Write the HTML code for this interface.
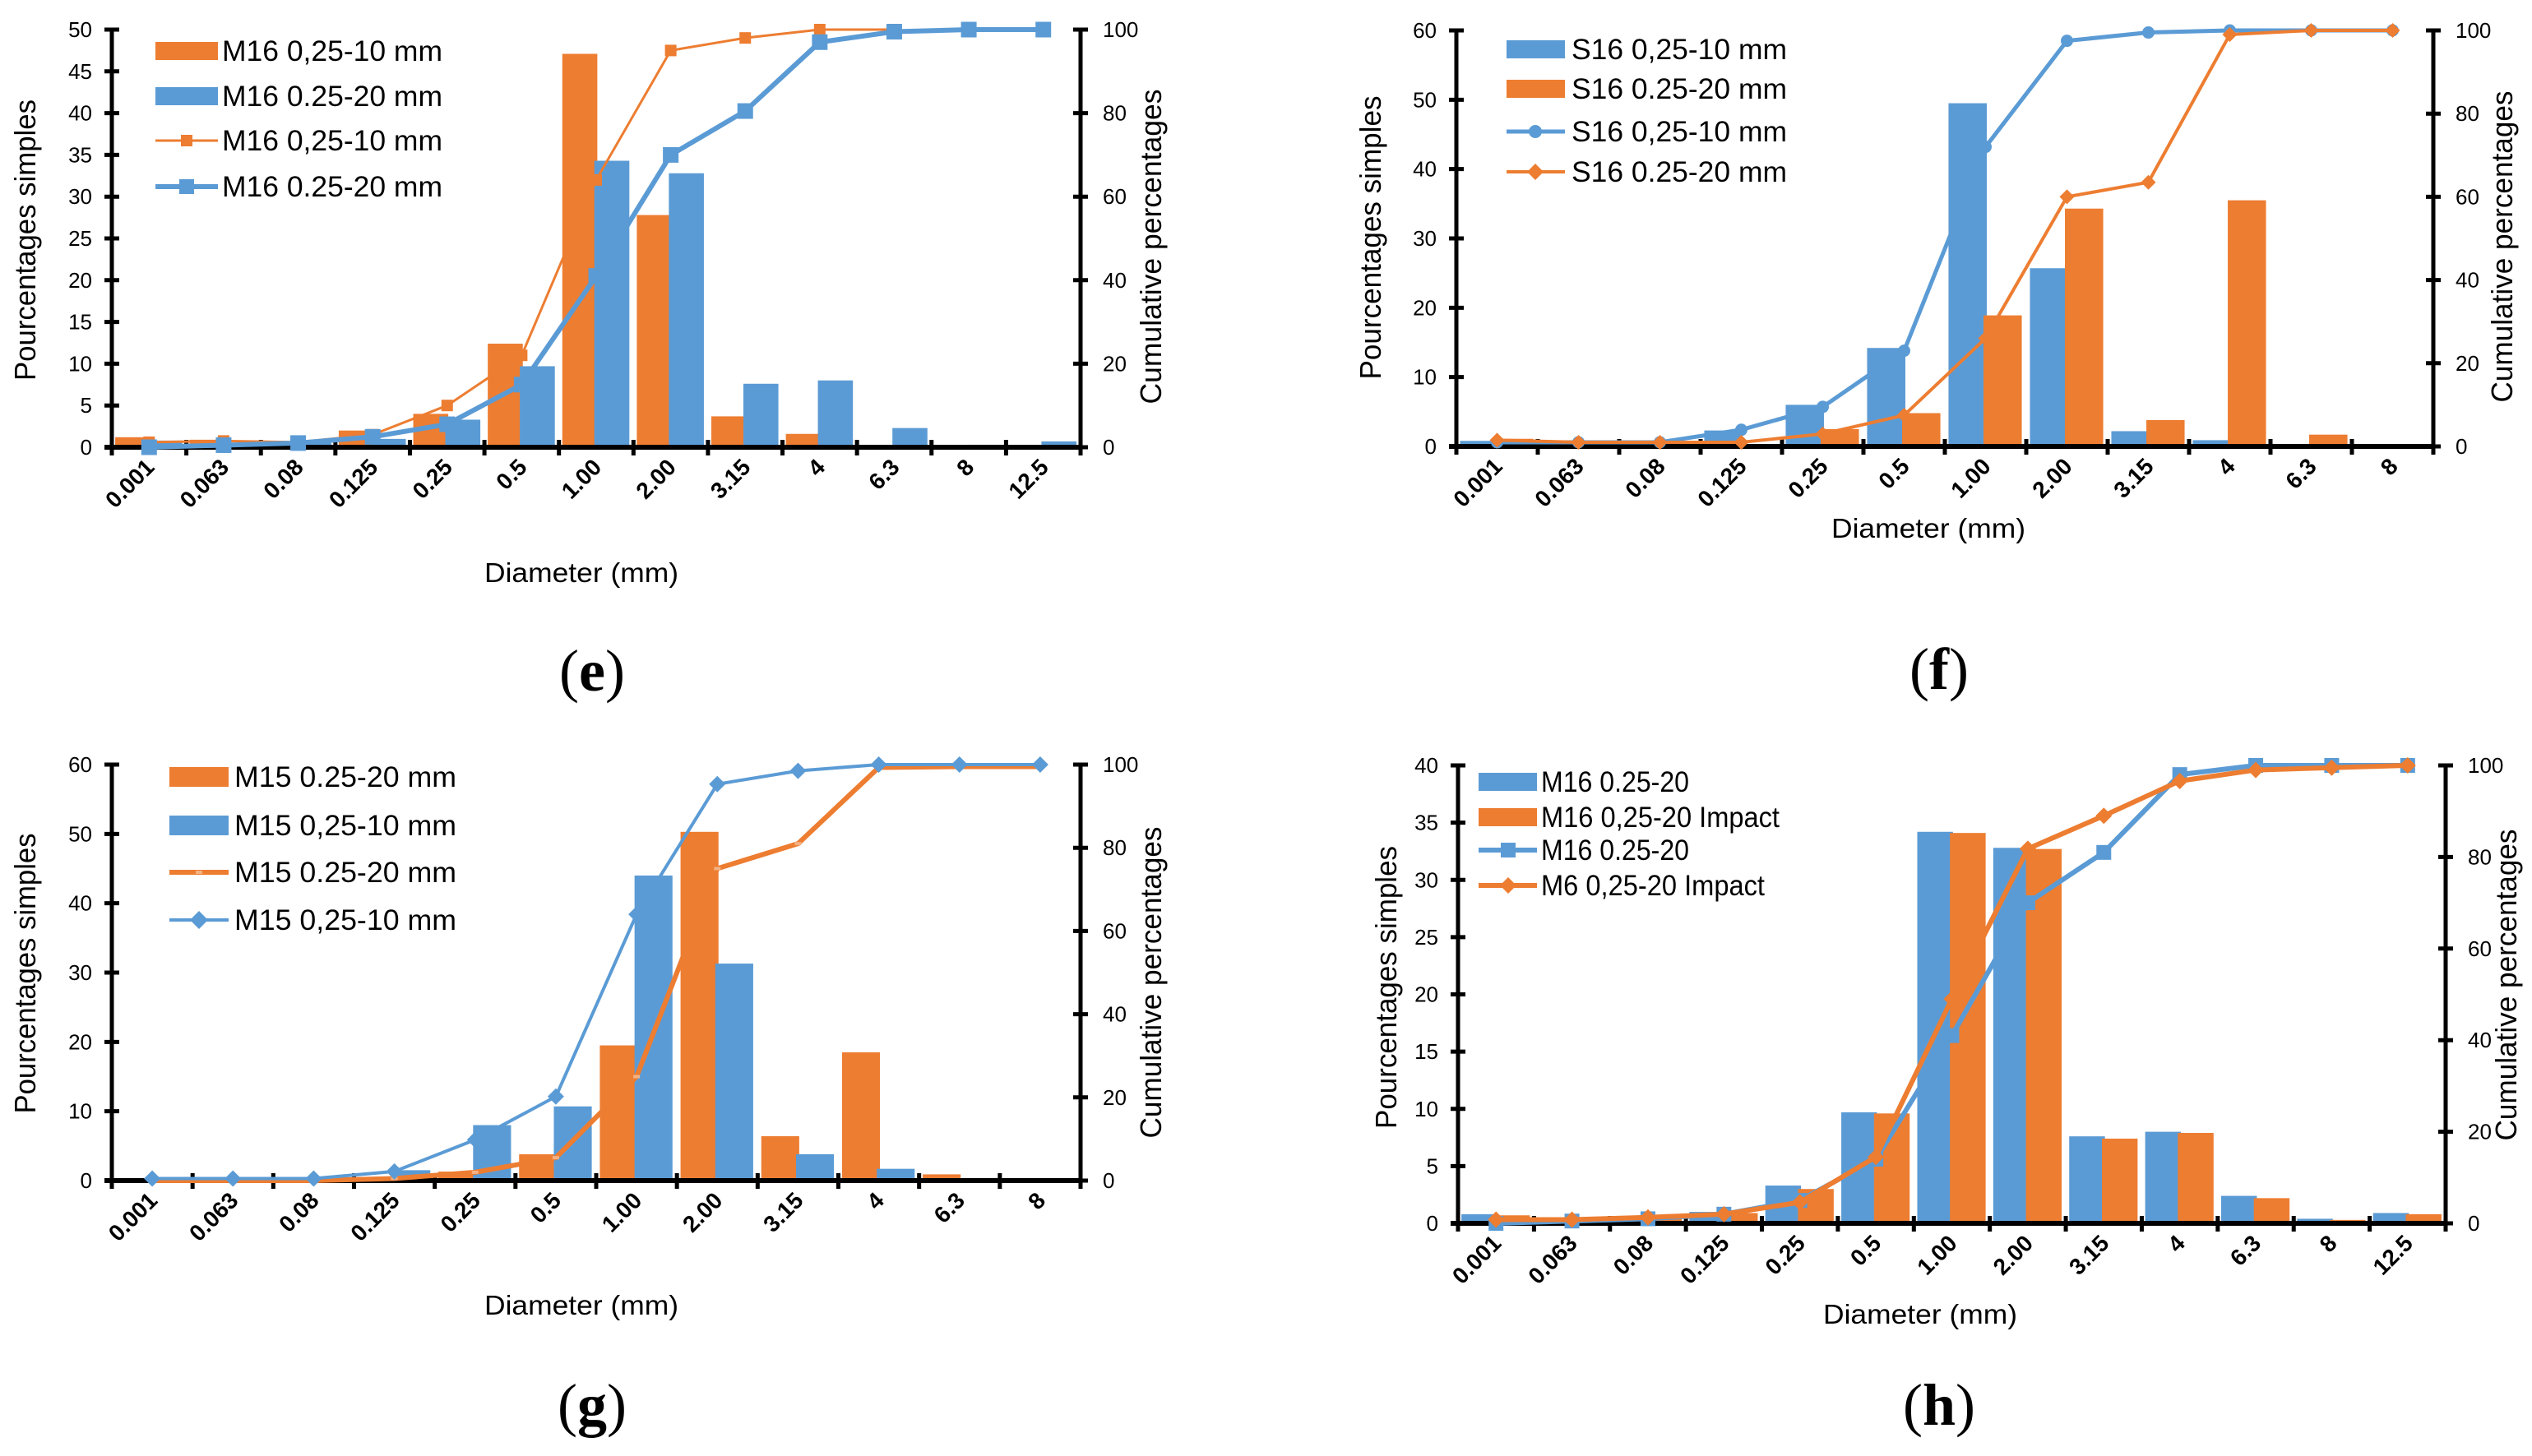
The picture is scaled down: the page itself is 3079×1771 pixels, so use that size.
<!DOCTYPE html>
<html><head><meta charset="utf-8"><style>
html,body{margin:0;padding:0;background:#fff;}
svg{display:block;font-family:"Liberation Sans",Arial,sans-serif;}
.lg{font-size:35px;fill:#000}
.tt{font-size:33px;fill:#000}
.tv{font-size:36px;fill:#000}
.cap{font-family:"Liberation Serif",serif;font-size:72px;fill:#000}
</style></head><body>
<svg id="fig" width="3079" height="1771" viewBox="0 0 3079 1771" xmlns="http://www.w3.org/2000/svg">
<rect x="0" y="0" width="3079" height="1771" fill="#fff"/>
<g id="pe"></g>
<g id="pf"></g>
<g id="pg"></g>
<g id="ph"></g>

<!-- Panel e static -->
<g>
<rect x="189" y="51" width="76" height="22" fill="#ED7D31"/>
<text class="lg" x="270" y="74" textLength="268" lengthAdjust="spacingAndGlyphs">M16 0,25-10 mm</text>
<rect x="189" y="106" width="76" height="22" fill="#5B9BD5"/>
<text class="lg" x="270" y="129" textLength="268" lengthAdjust="spacingAndGlyphs">M16 0.25-20 mm</text>
<line x1="189" y1="171" x2="265" y2="171" stroke="#ED7D31" stroke-width="3"/>
<rect x="220" y="164" width="14" height="14" fill="#ED7D31"/>
<text class="lg" x="270" y="183" textLength="268" lengthAdjust="spacingAndGlyphs">M16 0,25-10 mm</text>
<line x1="189" y1="227" x2="265" y2="227" stroke="#5B9BD5" stroke-width="6"/>
<rect x="218" y="218" width="18" height="18" fill="#5B9BD5"/>
<text class="lg" x="270" y="239" textLength="268" lengthAdjust="spacingAndGlyphs">M16 0.25-20 mm</text>
</g>
<text class="tv" transform="translate(43,292) rotate(-90)" text-anchor="middle" textLength="342" lengthAdjust="spacingAndGlyphs">Pourcentages  simples</text>
<text class="tv" transform="translate(1412,300) rotate(-90)" text-anchor="middle" textLength="383" lengthAdjust="spacingAndGlyphs">Cumulative  percentages</text>
<text class="tt" x="707" y="708" text-anchor="middle" textLength="236" lengthAdjust="spacingAndGlyphs">Diameter (mm)</text>
<text class="cap" x="720" y="840" text-anchor="middle">(<tspan font-weight="bold">e</tspan>)</text>

<!-- Panel f static -->
<g>
<rect x="1832" y="49" width="71" height="22" fill="#5B9BD5"/>
<text class="lg" x="1911" y="72" textLength="262" lengthAdjust="spacingAndGlyphs">S16 0,25-10 mm</text>
<rect x="1832" y="97" width="71" height="22" fill="#ED7D31"/>
<text class="lg" x="1911" y="120" textLength="262" lengthAdjust="spacingAndGlyphs">S16 0.25-20 mm</text>
<line x1="1832" y1="160" x2="1903" y2="160" stroke="#5B9BD5" stroke-width="5"/>
<circle cx="1867" cy="160" r="8" fill="#5B9BD5"/>
<text class="lg" x="1911" y="172" textLength="262" lengthAdjust="spacingAndGlyphs">S16 0,25-10 mm</text>
<line x1="1832" y1="209" x2="1903" y2="209" stroke="#ED7D31" stroke-width="4"/>
<polygon points="1867,199 1877,209 1867,219 1857,209" fill="#ED7D31"/>
<text class="lg" x="1911" y="221" textLength="262" lengthAdjust="spacingAndGlyphs">S16 0.25-20 mm</text>
</g>
<text class="tv" transform="translate(1679,289) rotate(-90)" text-anchor="middle" textLength="345" lengthAdjust="spacingAndGlyphs">Pourcentages  simples</text>
<text class="tv" transform="translate(3055,300) rotate(-90)" text-anchor="middle" textLength="379" lengthAdjust="spacingAndGlyphs">Cumulative  percentages</text>
<text class="tt" x="2345" y="654" text-anchor="middle" textLength="236" lengthAdjust="spacingAndGlyphs">Diameter (mm)</text>
<text class="cap" x="2358" y="838" text-anchor="middle">(<tspan font-weight="bold">f</tspan>)</text>

<!-- Panel g static -->
<g>
<rect x="206" y="933" width="72" height="24" fill="#ED7D31"/>
<text class="lg" x="285" y="957" textLength="270" lengthAdjust="spacingAndGlyphs">M15 0.25-20 mm</text>
<rect x="206" y="992" width="72" height="24" fill="#5B9BD5"/>
<text class="lg" x="285" y="1016" textLength="270" lengthAdjust="spacingAndGlyphs">M15 0,25-10 mm</text>
<line x1="206" y1="1061" x2="278" y2="1061" stroke="#ED7D31" stroke-width="6"/>
<rect x="238" y="1059" width="8" height="4" fill="#F4B183"/>
<text class="lg" x="285" y="1073" textLength="270" lengthAdjust="spacingAndGlyphs">M15 0.25-20 mm</text>
<line x1="206" y1="1119" x2="278" y2="1119" stroke="#5B9BD5" stroke-width="4"/>
<polygon points="242,1108 253,1119 242,1130 231,1119" fill="#5B9BD5"/>
<text class="lg" x="285" y="1131" textLength="270" lengthAdjust="spacingAndGlyphs">M15 0,25-10 mm</text>
</g>
<text class="tv" transform="translate(43,1184) rotate(-90)" text-anchor="middle" textLength="341" lengthAdjust="spacingAndGlyphs">Pourcentages  simples</text>
<text class="tv" transform="translate(1412,1195) rotate(-90)" text-anchor="middle" textLength="379" lengthAdjust="spacingAndGlyphs">Cumulative  percentages</text>
<text class="tt" x="707" y="1599" text-anchor="middle" textLength="236" lengthAdjust="spacingAndGlyphs">Diameter (mm)</text>
<text class="cap" x="720" y="1733" text-anchor="middle">(<tspan font-weight="bold">g</tspan>)</text>

<!-- Panel h static -->
<g>
<rect x="1798" y="940" width="71" height="22" fill="#5B9BD5"/>
<text class="lg" x="1874" y="963" font-size="32" textLength="180" lengthAdjust="spacingAndGlyphs">M16 0.25-20</text>
<rect x="1798" y="983" width="71" height="22" fill="#ED7D31"/>
<text class="lg" x="1874" y="1006" font-size="32" textLength="290" lengthAdjust="spacingAndGlyphs">M16 0,25-20 Impact</text>
<line x1="1798" y1="1034" x2="1869" y2="1034" stroke="#5B9BD5" stroke-width="6"/>
<rect x="1825" y="1025" width="18" height="18" fill="#5B9BD5"/>
<text class="lg" x="1874" y="1046" font-size="32" textLength="180" lengthAdjust="spacingAndGlyphs">M16 0.25-20</text>
<line x1="1798" y1="1077" x2="1869" y2="1077" stroke="#ED7D31" stroke-width="6"/>
<polygon points="1834,1067 1844,1077 1834,1087 1824,1077" fill="#ED7D31"/>
<text class="lg" x="1874" y="1089" font-size="32" textLength="272" lengthAdjust="spacingAndGlyphs">M6 0,25-20 Impact</text>
</g>
<text class="tv" transform="translate(1698,1201) rotate(-90)" text-anchor="middle" textLength="344" lengthAdjust="spacingAndGlyphs">Pourcentages  simples</text>
<text class="tv" transform="translate(3060,1198) rotate(-90)" text-anchor="middle" textLength="379" lengthAdjust="spacingAndGlyphs">Cumulative  percentages</text>
<text class="tt" x="2335" y="1610" text-anchor="middle" textLength="236" lengthAdjust="spacingAndGlyphs">Diameter (mm)</text>
<text class="cap" x="2358" y="1733" text-anchor="middle">(<tspan font-weight="bold">h</tspan>)</text>
</svg>
<script>
// ---------- Data ----------
const CATS13 = ['0.001','0.063','0.08','0.125','0.25','0.5','1.00','2.00','3.15','4','6.3','8','12.5'];
const CATS12 = ['0.001','0.063','0.08','0.125','0.25','0.5','1.00','2.00','3.15','4','6.3','8'];
const LEFT_TICKS_E = [0,5,10,15,20,25,30,35,40,45,50];
const LEFT_TICKS_FG = [0,10,20,30,40,50,60];
const LEFT_TICKS_H = [0,5,10,15,20,25,30,35,40];
const RIGHT_TICKS = [0,20,40,60,80,100];

// (e)
const E_BAR_M16_10 = [1.2,0.9,0.4,2.0,4.0,12.4,47.1,27.8,3.7,1.6,0,0,0];
const E_BAR_M16_20 = [0.8,0.5,0.6,1.0,3.3,9.7,34.3,32.8,7.6,8.0,2.3,0.3,0.7];
const E_CUM_M16_10 = [1.2,1.5,1.2,3,10,22,64,95,98,100,100];
const E_CUM_M16_20 = [0,0.5,1,2.5,5.5,15,41,70,80.5,97,99.5,100,100];
// (f)
const F_BAR_S16_10 = [0.8,0.5,0.5,2.3,6.0,14.2,49.5,25.7,2.2,0.9,0,0];
const F_BAR_S16_20 = [1.1,0.3,0.2,0.3,2.5,4.8,18.9,34.3,3.8,35.5,1.7,0];
const F_CUM_S16_10 = [1,1,1,4,9.5,23,72,97.5,99.5,100,100,100];
const F_CUM_S16_20 = [1.5,1,1,1,3,7.5,26,60,63.5,99,100,100];
// (g)
const G_BAR_M15_20 = [0.3,0,0,0.4,1.3,3.8,19.5,50.3,6.4,18.5,0.9,0];
const G_BAR_M15_10 = [0,0,0,1.5,8.0,10.7,44.0,31.3,3.8,1.7,0,0];
const G_CUM_M15_20 = [0,0,0,0.5,2,5.5,25,75,81,99.3,99.5,99.5];
const G_CUM_M15_10 = [0.5,0.5,0.5,2.2,9.8,20.2,64,95.3,98.5,100,100,100];
// (h)
const H_BAR_M16 = [0.8,0.5,0.6,1.0,3.3,9.7,34.2,32.8,7.6,8.0,2.4,0.4,0.9];
const H_BAR_M16_IMP = [0.7,0.4,0.5,0.9,3.0,9.6,34.1,32.7,7.4,7.9,2.2,0.3,0.8];
const H_CUM_M16 = [0,0.5,1,2,5,14,41,70,81,98,100,100,100];
const H_CUM_M16_IMP = [0.8,0.8,1.3,2,4.6,14.5,49,81.8,89,96.6,99,99.5,100];

const ORANGE = '#ED7D31', BLUE = '#5B9BD5';
const NS = 'http://www.w3.org/2000/svg';
function mk(tag, attrs, parent){
  const el = document.createElementNS(NS, tag);
  for (const k in attrs) el.setAttribute(k, attrs[k]);
  parent.appendChild(el);
  return el;
}

function marker(g, type, cx, cy, size, color, name){
  let el;
  if (type === 'square') el = mk('rect', {x:cx-size/2, y:cy-size/2, width:size, height:size, fill:color}, g);
  else if (type === 'circle') el = mk('circle', {cx:cx, cy:cy, r:size/2, fill:color}, g);
  else if (type === 'diamond') el = mk('polygon', {points:`${cx},${cy-size/2} ${cx+size/2},${cy} ${cx},${cy+size/2} ${cx-size/2},${cy}`, fill:color}, g);
  else el = mk('rect', {x:cx-4, y:cy-2, width:8, height:4, fill:'#F4B183'}, g);
  
  
}

function drawPanel(p){
  const g = document.getElementById(p.id);
  const n = p.cats.length, cw = (p.x1 - p.x0) / n;
  const ly = v => p.yB - v / p.leftMax * (p.yB - p.yT);
  const ry = v => p.yB - v / 100 * (p.yB - p.yT);
  const cx = i => p.x0 + (i + 0.5) * cw;
  p.bars.forEach((s, k) => {
    s.vals.forEach((v, i) => {
      if (v <= 0) return;
      const r = mk('rect', {x: p.x0 + i*cw + cw*(0.045 + 0.43*k), y: ly(v), width: cw*0.47, height: p.yB - ly(v), fill: s.color}, g);
      
      
    });
  });
  const la = mk('line', {x1:p.x0, y1:p.yT, x2:p.x0, y2:p.yB+10, stroke:'#000', 'stroke-width':5}, g);
  
  
  const ra = mk('line', {x1:p.x1, y1:p.yT, x2:p.x1, y2:p.yB+10, stroke:'#000', 'stroke-width':5}, g);
  
  
  const xa = mk('line', {x1:p.x0-9, y1:p.yB, x2:p.x1, y2:p.yB, stroke:'#000', 'stroke-width':6}, g);
  
  
  p.leftTicks.forEach(t => {
    const y = ly(t);
    const tk = mk('line', {x1:p.x0-9, y1:y, x2:p.x0+9, y2:y, stroke:'#000', 'stroke-width':5}, g);
    
    
    const tl = mk('text', {x:p.x0-24, y:y+9, 'text-anchor':'end', 'font-size':26}, g);
    tl.textContent = t;
    
    
  });
  RIGHT_TICKS.forEach(t => {
    const y = ry(t);
    const tk = mk('line', {x1:p.x1-9, y1:y, x2:p.x1+9, y2:y, stroke:'#000', 'stroke-width':5}, g);
    
    
    const tl = mk('text', {x:p.x1+27, y:y+9, 'font-size':26}, g);
    tl.textContent = t;
    
    
  });
  for (let i = 1; i <= n; i++){
    const x = p.x0 + i*cw;
    const tk = mk('line', {x1:x, y1:p.yB-9, x2:x, y2:p.yB+10, stroke:'#000', 'stroke-width':5}, g);
    
    
  }
  p.cats.forEach((c, i) => {
    const tx = cx(i) + 8, ty = p.yB + 26;
    const tl = mk('text', {x:tx, y:ty, 'text-anchor':'end', 'font-size':28, 'font-weight':'bold', transform:`rotate(-45 ${tx} ${ty})`}, g);
    tl.textContent = c;
    
    
  });
  p.lines.forEach(s => {
    const pts = s.vals.map((v, i) => cx(i) + ',' + ry(v)).join(' ');
    const pl = mk('polyline', {points:pts, fill:'none', stroke:s.color, 'stroke-width':s.width, 'stroke-linejoin':'round'}, g);
    
    
    s.vals.forEach((v, i) => marker(g, s.marker, cx(i), ry(v), s.size, s.color, 'point-' + s.name + '-' + p.cats[i]));
  });
}

drawPanel({id:'pe', x0:136, x1:1314, yT:36, yB:544, leftMax:50, leftTicks:LEFT_TICKS_E, cats:CATS13,
  bars:[{vals:E_BAR_M16_10, color:ORANGE, name:'m16-10'}, {vals:E_BAR_M16_20, color:BLUE, name:'m16-20'}],
  lines:[{vals:E_CUM_M16_10, color:ORANGE, width:3, marker:'square', size:14, name:'cum-m16-10'},
         {vals:E_CUM_M16_20, color:BLUE, width:6, marker:'square', size:19, name:'cum-m16-20'}]});
drawPanel({id:'pf', x0:1771, x1:2959, yT:37, yB:543, leftMax:60, leftTicks:LEFT_TICKS_FG, cats:CATS12,
  bars:[{vals:F_BAR_S16_10, color:BLUE, name:'s16-10'}, {vals:F_BAR_S16_20, color:ORANGE, name:'s16-20'}],
  lines:[{vals:F_CUM_S16_10, color:BLUE, width:5, marker:'circle', size:15, name:'cum-s16-10'},
         {vals:F_CUM_S16_20, color:ORANGE, width:4, marker:'diamond', size:18, name:'cum-s16-20'}]});
drawPanel({id:'pg', x0:136, x1:1314, yT:930, yB:1436, leftMax:60, leftTicks:LEFT_TICKS_FG, cats:CATS12,
  bars:[{vals:G_BAR_M15_20, color:ORANGE, name:'m15-20'}, {vals:G_BAR_M15_10, color:BLUE, name:'m15-10'}],
  lines:[{vals:G_CUM_M15_20, color:ORANGE, width:6, marker:'dash', size:8, name:'cum-m15-20'},
         {vals:G_CUM_M15_10, color:BLUE, width:4, marker:'diamond', size:20, name:'cum-m15-10'}]});
drawPanel({id:'ph', x0:1773, x1:2974, yT:931, yB:1488, leftMax:40, leftTicks:LEFT_TICKS_H, cats:CATS13,
  bars:[{vals:H_BAR_M16, color:BLUE, name:'m16'}, {vals:H_BAR_M16_IMP, color:ORANGE, name:'m16-impact'}],
  lines:[{vals:H_CUM_M16, color:BLUE, width:6, marker:'square', size:18, name:'cum-m16'},
         {vals:H_CUM_M16_IMP, color:ORANGE, width:6, marker:'diamond', size:20, name:'cum-m6-impact'}]});
</script>
</body></html>
